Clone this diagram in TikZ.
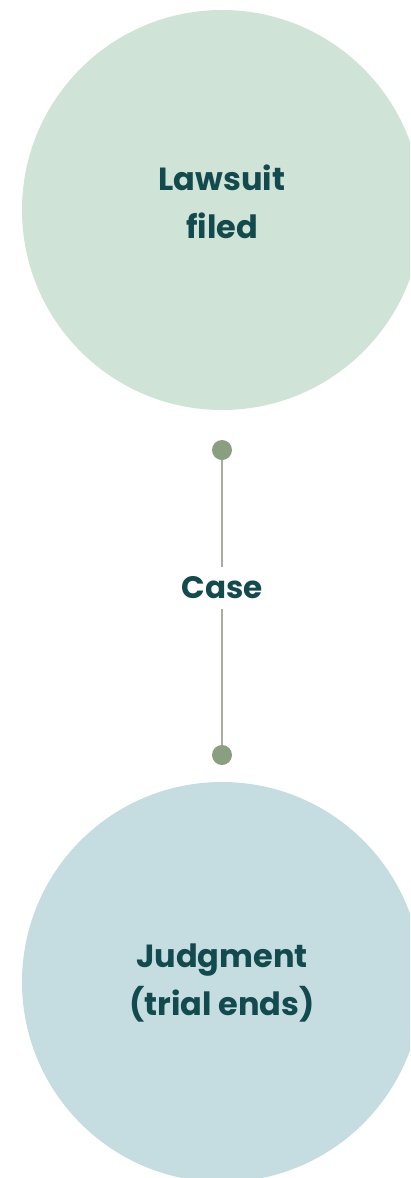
\documentclass[tikz,border=0pt]{standalone}
\usepackage{fontspec}
\setmainfont{Poppins}
\usetikzlibrary{positioning}
\usepackage{xcolor}
\definecolor{cgreen}{HTML}{CFE3D6}
\definecolor{cblue}{HTML}{C5DDE1}
\definecolor{cteal}{HTML}{134A4D}
\definecolor{cdot}{HTML}{8A9E80}
\definecolor{cline}{HTML}{A7B0A0}

\begin{document}
\begin{tikzpicture}[x=1pt,y=-1pt,
  stage/.style={circle,minimum size=400pt,inner sep=0pt},
  title/.style={text=cteal,inner sep=0pt,align=center,
                font=\fontsize{32}{48}\selectfont\bfseries},
  dot/.style={circle,fill=cdot,minimum size=20pt,inner sep=0pt},
  conn/.style={cline,line width=1.5pt},
  lbl/.style={fill=white,text=cteal,inner sep=10pt,
              font=\fontsize{31}{48}\selectfont\bfseries}
]
\useasboundingbox (0,0) rectangle (410,1178);
\clip (0,0) rectangle (410,1178);
% stages
\node[stage,fill=cgreen] (filed) at (222,210) {};
\node[stage,fill=cblue] (judg) at (222,982) {};
\node[title] (filedtxt) at (222,202) {Lawsuit\\filed};
\node[title] (judgtxt) at (222,983) {Judgment\\(trial ends)};
% case
\node[dot] (d1) at (222,450) {};
\node[dot] (d2) at (222,755) {};
\draw[conn] (d1)--(d2);
\node[lbl] (case) at (222,588) {Case};
\end{tikzpicture}
\end{document}
